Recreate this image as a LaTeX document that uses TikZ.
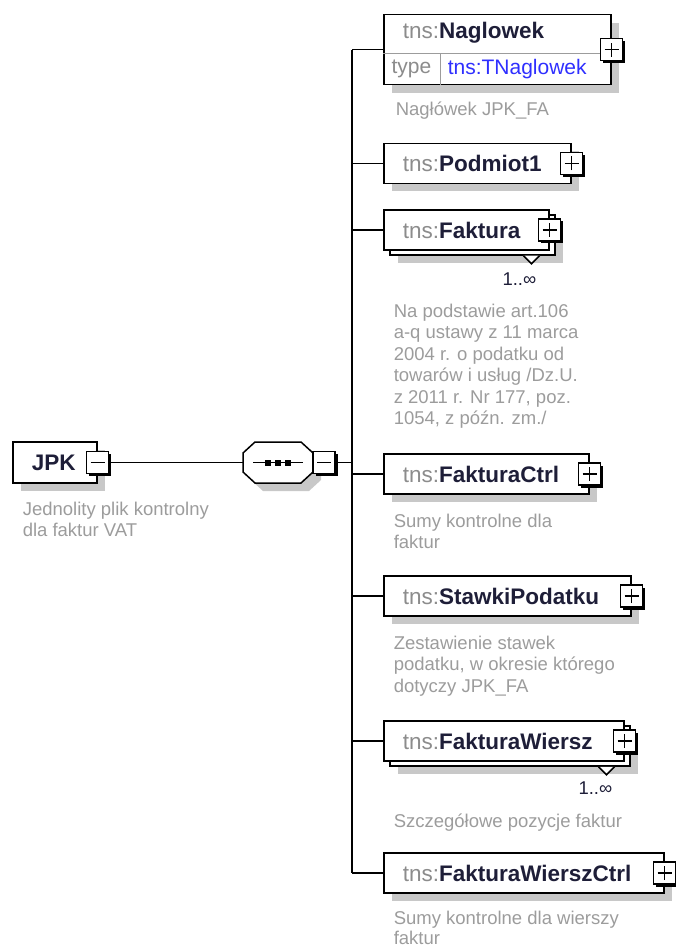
\documentclass[tikz,border=0pt]{standalone}
\usepackage{fontspec}
\setmainfont{Liberation Sans}
\usetikzlibrary{shadows}
\definecolor{capgrey}{HTML}{9C9C9C}
\definecolor{tnsgrey}{HTML}{8C8C8C}
\definecolor{namecol}{HTML}{1E1E38}
\definecolor{typeblue}{HTML}{2F2FFF}
\definecolor{shadowgrey}{HTML}{C8C8C8}
\newcommand{\Elem}[1]{{\color{tnsgrey}tns:}\textbf{#1}}
\newcommand{\titlefont}{\fontsize{22.5}{27}\selectfont}
\newcommand{\typefont}{\fontsize{21}{25}\selectfont}
\newcommand{\capfont}{\fontsize{18.5}{21.5}\selectfont}
\newcommand{\cstrut}{\rule{0pt}{14.5pt}}

\begin{document}
\begin{tikzpicture}[x=1pt, y=-1pt, line width=1.5pt,
    elembox/.style={draw, fill=white, anchor=west, minimum height=40pt,
        inner xsep=19pt, inner ysep=0pt, align=left, text width=#1,
        font=\titlefont, text=namecol},
    elemnode/.style={elembox=#1,
        drop shadow={shadow xshift=8pt, shadow yshift=-8pt, fill=shadowgrey, opacity=1}},
    multinode/.style={elembox=#1,
        drop shadow={shadow xshift=14pt, shadow yshift=-13pt, fill=shadowgrey, opacity=1},
        copy shadow={shadow xshift=6pt, shadow yshift=-5pt, draw=black, fill=white}},
    pmbox/.style={draw, fill=white, minimum size=22pt, inner sep=0pt, outer sep=0pt,
        drop shadow={shadow xshift=2.5pt, shadow yshift=-2.5pt, fill=black, opacity=1}},
    plusbox/.style={pmbox, path picture={
        \draw ([xshift=-7pt]path picture bounding box.center) -- ([xshift=7pt]path picture bounding box.center)
              ([yshift=-7pt]path picture bounding box.center) -- ([yshift=7pt]path picture bounding box.center);}},
    minusbox/.style={pmbox, path picture={
        \draw ([xshift=-7pt]path picture bounding box.center) -- ([xshift=7pt]path picture bounding box.center);}},
    caption/.style={anchor=north west, align=left, inner sep=0pt, font=\capfont, text=capgrey},
    mult/.style={anchor=east, inner sep=0pt, font=\capfont, text=namecol}]

    \useasboundingbox (0,0) rectangle (675,949);

    % root element
    \node[elemnode=46pt, minimum height=41pt] (jpk) at (12,462.5) {\textbf{JPK}};
    \node[minusbox] (jpkM) at (jpk.east) {};
    \node[caption] (jpkC) at (22,500) {\cstrut Jednolity plik kontrolny\\dla faktur VAT};

    % sequence
    \node[minimum width=70pt, minimum height=41pt, inner sep=0pt, outer sep=0pt] (seq) at (278,462.5) {};
    \draw[fill=white, drop shadow={shadow xshift=8pt, shadow yshift=-8pt, fill=shadowgrey, opacity=1}]
        ([xshift=12pt]seq.north west) -- ([xshift=-12pt]seq.north east) -- ([yshift=-11pt]seq.north east)
        -- ([yshift=11pt]seq.south east) -- ([xshift=-12pt]seq.south east) -- ([xshift=12pt]seq.south west)
        -- ([yshift=11pt]seq.south west) -- ([yshift=-11pt]seq.north west) -- cycle;
    \draw ([xshift=-25pt]seq.center) -- ([xshift=25pt]seq.center);
    \foreach \dx in {-10,0,10}
        \fill ([xshift=\dx pt]seq.center) +(-3,-3) rectangle +(3,3);
    \node[minusbox, anchor=west] (seqM) at (seq.east) {};
    \coordinate (bus) at (352,462.5);

    % children
    \node[draw, fill=white, anchor=north west, minimum width=227pt, minimum height=70pt, inner sep=0pt,
          drop shadow={shadow xshift=8pt, shadow yshift=-8pt, fill=shadowgrey, opacity=1}] (nag) at (383,14) {};
    \draw[capgrey, line width=1pt] ([yshift=-4pt]nag.west) -- ([yshift=-4pt]nag.east)
        ([xshift=57pt,yshift=-4pt]nag.west) -- ([xshift=57pt]nag.south west);
    \node[anchor=west, inner sep=0pt, font=\titlefont, text=namecol] (nagT) at (402,33) {\Elem{Naglowek}};
    \node[inner sep=0pt, font=\typefont, text=tnsgrey] (nagTy) at (411.5,69) {type};
    \node[anchor=west, inner sep=0pt, font=\typefont, text=typeblue] (nagTn) at (447,69) {tns:TNaglowek};
    \node[plusbox] (nagP) at (nag.east) {};
    \node[caption] (nagC) at (395,100) {\cstrut Nagłówek JPK\_FA};

    \node[elemnode=149pt] (pod) at (383,163.5) {\Elem{Podmiot1}};
    \node[plusbox] (podP) at (pod.east) {};

    \node[multinode=127pt] (fak) at (383,230) {\Elem{Faktura}};
    \node[plusbox] (fakP) at (fak.east) {};
    \draw[fill=white] ([xshift=-10pt,yshift=-5pt]fak.south east) -- ++(-8,8) -- ++(-8,-8);
    \node[mult] (fakM) at (537,279) {1..∞};
    \node[caption] (fakC) at (393,302) {\cstrut Na podstawie art.106\\a-q ustawy z 11 marca\\2004 r. o podatku od\\towarów i usług /Dz.U.\\z 2011 r. Nr 177, poz.\\1054, z późn. zm./};

    \node[elemnode=167pt] (fctrl) at (383,474) {\Elem{FakturaCtrl}};
    \node[plusbox] (fctrlP) at (fctrl.east) {};
    \node[caption] (fctrlC) at (393,512) {\cstrut Sumy kontrolne dla\\faktur};

    \node[elemnode=209pt] (stawki) at (383,596) {\Elem{StawkiPodatku}};
    \node[plusbox] (stawkiP) at (stawki.east) {};
    \node[caption] (stawkiC) at (393,634) {\cstrut Zestawienie stawek\\podatku, w okresie którego\\dotyczy JPK\_FA};

    \node[multinode=202pt] (fw) at (383,741) {\Elem{FakturaWiersz}};
    \node[plusbox] (fwP) at (fw.east) {};
    \draw[fill=white] ([xshift=-10pt,yshift=-5pt]fw.south east) -- ++(-8,8) -- ++(-8,-8);
    \node[mult] (fwM) at (613,788) {1..∞};
    \node[caption] (fwC) at (393,812) {\cstrut Szczegółowe pozycje faktur};

    \node[elemnode=242pt] (fwc) at (383,873) {\Elem{FakturaWierszCtrl}};
    \node[plusbox] (fwcP) at (fwc.east) {};
    \node[caption, font=\fontsize{18.5}{20}\selectfont] (fwcC) at (393,909) {\cstrut Sumy kontrolne dla wierszy\\faktur};

    % connectors
    \draw (jpkM.east) -- (seq.west);
    \draw (seqM.east) -- (bus);
    \draw (bus |- nag.west) -- (bus |- fwc.west);
    \foreach \n in {nag,pod,fak,fctrl,stawki,fw,fwc}
        \draw (bus |- \n.west) -- (\n.west);

\end{tikzpicture}
\end{document}
